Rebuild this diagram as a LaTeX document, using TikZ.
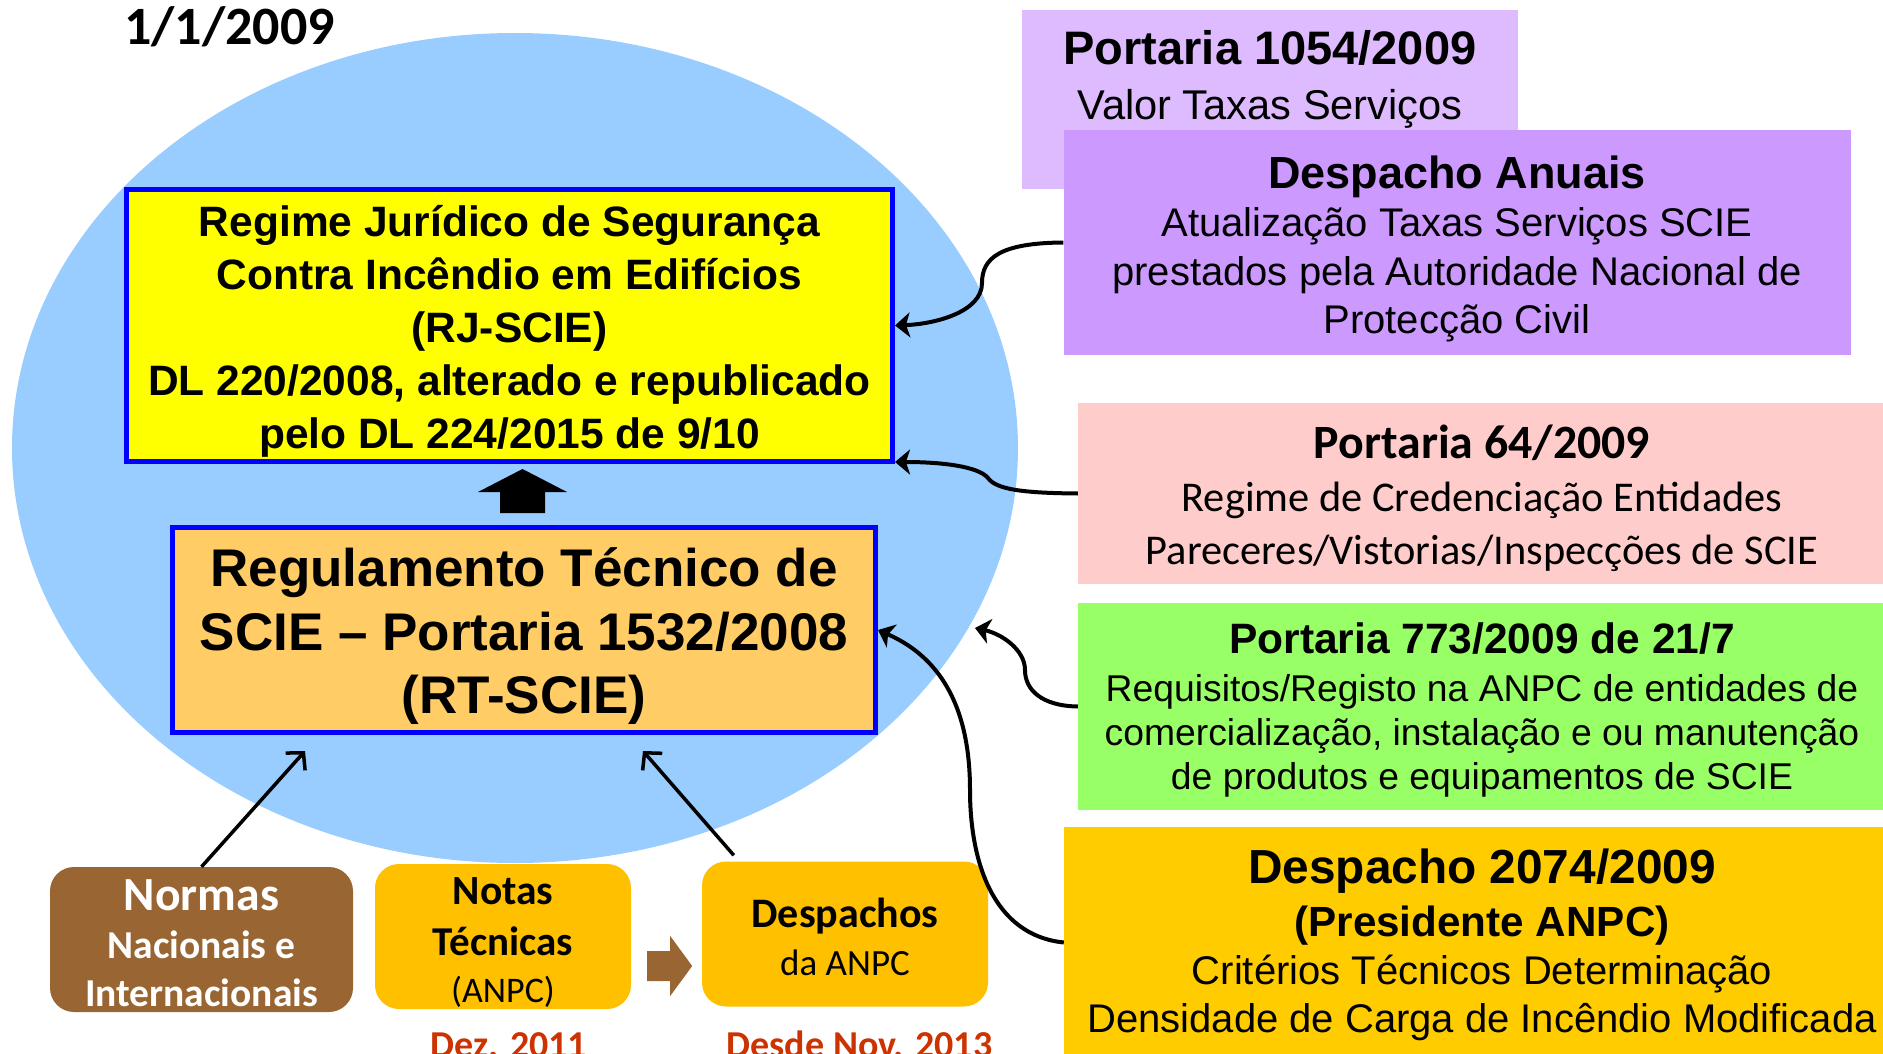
\documentclass[tikz,border=0pt]{standalone}
\usepackage{fontspec}
\setmainfont{Liberation Sans}
\newfontfamily\califont{Carlito}
\usetikzlibrary{arrows.meta}
\definecolor{ellblue}{HTML}{99CCFF}
\definecolor{yel}{HTML}{FFFF00}
\definecolor{bblue}{HTML}{0000FF}
\definecolor{rtorange}{HTML}{FFCC66}
\definecolor{palepurple}{HTML}{DDBBFE}
\definecolor{purple}{HTML}{CC99FF}
\definecolor{pink}{HTML}{FFCCCC}
\definecolor{lgreen}{HTML}{99FF66}
\definecolor{gold}{HTML}{FFCC00}
\definecolor{brown}{HTML}{996633}
\definecolor{amber}{HTML}{FFC000}
\definecolor{redtxt}{HTML}{CC3300}
\newcommand\fs[2]{\fontsize{#1}{#2}\selectfont}
\tikzset{
  box/.style={inner sep=0pt, align=center},
  lbl/.style={inner sep=0pt, align=center},
  conn/.style={line width=4pt, -{Stealth[length=15pt,width=25pt,inset=4pt]}},
  barb/.style={line width=3.5pt, -{Straight Barb[length=12pt,width=26pt]}},
  rbox/.style={inner sep=0pt, align=center, rounded corners=24pt},
}
\begin{document}
\begin{tikzpicture}[x=1pt,y=-1pt]
\useasboundingbox (0,0) rectangle (1883,1054);
\clip (0,0) rectangle (1883,1054);
% big ellipse
\fill[ellblue] (515,448) ellipse [x radius=503pt, y radius=415pt];
% title
\node[lbl, anchor=base west, font=\califont\fs{54}{60}\bfseries] (date) at (124,45) {1/1/2009};
% RJ-SCIE
\node[box, fill=yel, draw=bblue, line width=5pt, minimum width=766, minimum height=272] (rj) at (509.5,325.5) {};
\node[lbl, font=\fs{42.5}{53}\bfseries] (rjt) at ([yshift=-6pt]rj.center)
  {Regime Jurídico de Segurança\\Contra Incêndio em Edifícios\\(RJ-SCIE)\\DL 220/2008, alterado e republicado\\pelo DL 224/2015 de 9/10};
% RT-SCIE
\node[box, fill=rtorange, draw=bblue, line width=5pt, minimum width=703, minimum height=205] (rt) at (524,630) {};
\node[lbl, font=\fs{53}{63.5}\bfseries] (rtt) at ([yshift=-6.5pt]rt.center)
  {Regulamento Técnico de\\SCIE – Portaria 1532/2008\\(RT-SCIE)};
% block arrow RT -> RJ
\fill[black] ([xshift=-1.5pt,yshift=12pt]rt.north) ++(-22.5,0) -- ++(0,-21) -- ++(-22,0)
   -- ++(44.5,-23) -- ++(44.5,23) -- ++(-22,0) -- ++(0,21) -- cycle;
% right column
\node[box, fill=palepurple, minimum width=496, minimum height=179] (p1054) at (1270,99.5) {};
\node[lbl, font=\fs{41.6}{55}] (p1054t) at (1270,79.5)
  {\fs{47}{55}\bfseries Portaria 1054/2009\\Valor Taxas Serviços};
\node[box, fill=purple, minimum width=787, minimum height=225] (anuais) at (1457,242.5) {};
\node[lbl, font=\fs{40}{48.5}] (anuaist) at ([yshift=-6.5pt]anuais.center)
  {\fs{45}{48}\bfseries Despacho Anuais\\Atualização Taxas Serviços SCIE\\prestados pela Autoridade Nacional de\\Protecção Civil};
\node[box, fill=pink, minimum width=808, minimum height=181] (p64) at (1482,493.5) {};
\node[lbl, font=\califont\fs{42.4}{53}] (p64t) at ([yshift=-5pt]p64.center)
  {\fs{47.8}{53}\bfseries Portaria 64/2009\\Regime de Credenciação Entidades\\Pareceres/Vistorias/Inspecções de SCIE};
\node[box, fill=lgreen, minimum width=808, minimum height=207] (p773) at (1482,706.5) {};
\node[lbl, font=\fs{37.3}{44}] (p773t) at ([yshift=-3.5pt]p773.center)
  {\fs{42.5}{44}\bfseries Portaria 773/2009 de 21/7\\[4pt]Requisitos/Registo na ANPC de entidades de\\comercialização, instalação e ou manutenção\\de produtos e equipamentos de SCIE};
\node[box, fill=gold, minimum width=836, minimum height=231] (d2074) at (1482,942.5) {};
\node[lbl, font=\fs{40}{48}] (d2074t) at ([yshift=-2.5pt]d2074.center)
  {\fs{47.8}{50}\bfseries Despacho 2074/2009\\[5pt]\fs{42.2}{48}\bfseries(Presidente ANPC)\\Critérios Técnicos Determinação\\Densidade de Carga de Incêndio Modificada};
% bottom boxes
\node[rbox, fill=brown, minimum width=303, minimum height=145] (normas) at (201.5,939.5) {};
\node[lbl, text=white, font=\califont\fs{39.5}{48}\bfseries] (normast) at ([yshift=-4pt]normas.center)
  {\fs{47.6}{50}\bfseries Normas\\Nacionais e\\Internacionais};
\node[rbox, fill=amber, minimum width=256, minimum height=145] (notas) at (503,936.5) {};
\node[lbl, font=\califont\fs{36}{47}] (notast) at ([yshift=-6pt]notas.center)
  {\fs{41.5}{50}\bfseries Notas\\[4pt]\fs{41}{50}\bfseries Técnicas\\(ANPC)};
\node[rbox, fill=amber, minimum width=286, minimum height=145] (desp) at (845,934) {};
\node[lbl, font=\califont\fs{37}{48}] (despt) at ([yshift=-2.5pt]desp.center)
  {\fs{42}{48}\bfseries Despachos\\da ANPC};
% brown block arrow
\fill[brown] ([xshift=16pt,yshift=-14.5pt]notas.east) -- ++(23,0) -- ++(0,-15) -- ++(22,30)
   -- ++(-22,30) -- ++(0,-15) -- ++(-23,0) -- cycle;
% red dates
\node[lbl, anchor=base, text=redtxt, font=\califont\fs{38}{40}\bfseries] (dez) at (509,1057) {Dez. 2011};
\node[lbl, anchor=base, text=redtxt, font=\califont\fs{38}{40}\bfseries] (nov) at (859.5,1057) {Desde Nov. 2013};
% connectors
\coordinate (c3end) at (975,628);
\coordinate (c5end) at (305,751);
\coordinate (c6end) at (643,751);
\draw[conn] (anuais.west) .. controls (1000,243) and (982,258) .. (982,283)
   .. controls (982,312) and (935,324) .. (rj.east);
\draw[conn] (p64.west) .. controls (1020,493) and (996,489) .. (988,478)
   .. controls (978,466) and (940,462) .. ([yshift=2pt]rj.south east);
\draw[conn] (p773.west) .. controls (1042,706) and (1025,690) .. (1025,670)
   .. controls (1025,650) and (1002,634) .. (c3end);
\draw[conn] (d2074.west) .. controls (992,935) and (970,860) .. (970,790)
   .. controls (970,700) and (935,655) .. (rt.east);
\draw[barb] (normas.north) -- (c5end);
\draw[barb] ([xshift=32pt,yshift=6pt]desp.north west) -- (c6end);
\end{tikzpicture}
\end{document}
